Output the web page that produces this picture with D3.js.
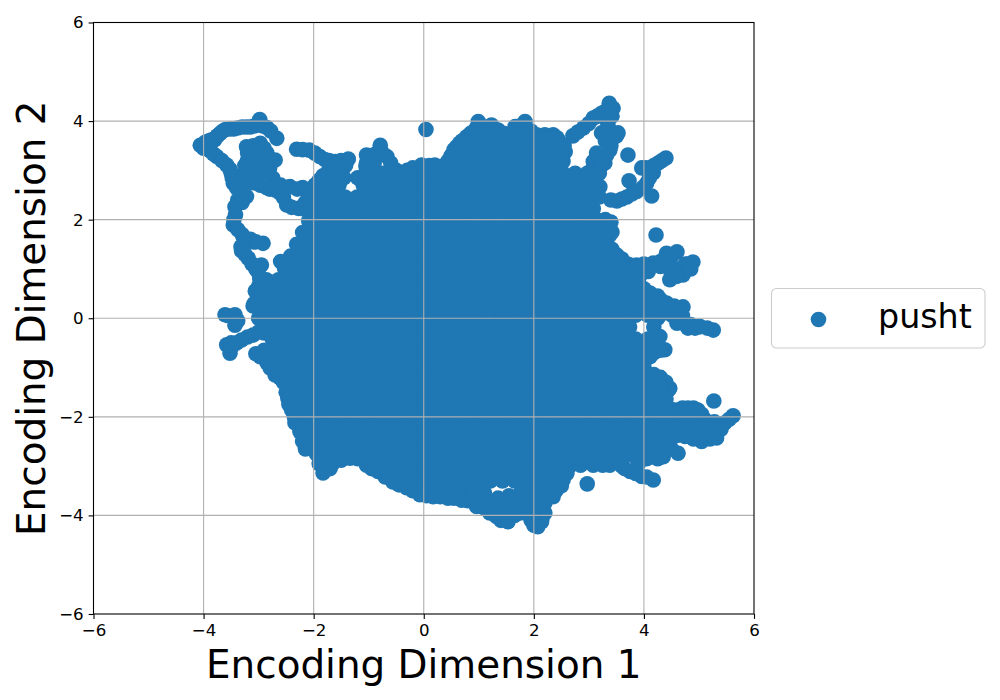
<!DOCTYPE html>
<html>
<head>
<meta charset="utf-8">
<script src="https://cdn.jsdelivr.net/npm/d3@7"></script>
<style>
html,body{margin:0;padding:0;background:#fff}
svg{display:block}
text{font-family:"DejaVu Sans",sans-serif;fill:#000}
</style>
</head>
<body>
<svg id="chart" width="1000" height="700"></svg>
<script>
const seriesName = "pusht";
const xAxisLabel = "Encoding Dimension 1";
const yAxisLabel = "Encoding Dimension 2";
const tickValues = [-6, -4, -2, 0, 2, 4, 6];
const domainRange = [-6, 6];

// Points readable on the rim of the cloud: isolated markers, arms and loops.
const rimPoints = [
[-4.0,3.45],[-4.06,3.51],[-3.9,3.6],[-3.8,3.62],[-3.7,3.75],[-3.6,3.83],[-3.45,3.84],[-3.3,3.88],[-3.15,3.88],[-3.0,3.92],[-2.98,4.03],[-2.85,3.87],[-2.67,3.65],
[-3.97,3.57],[-3.85,3.62],[-3.75,3.7],[-3.65,3.8],[-3.52,3.84],[-3.38,3.86],[-3.22,3.88],[-3.08,3.9],[-2.92,3.9],[-2.78,3.8],
[0.04,3.83],
[-3.76,3.28],[-3.58,3.11],[-3.5,2.95],[-3.46,2.74],[-3.3,2.55],[-3.22,2.47],[-3.43,2.26],[-3.38,2.4],[-3.46,1.89],[-3.28,1.65],[-2.92,1.52],[-3.1,1.55],[-3.31,1.37],[-3.19,1.22],[-3.01,0.94],[-2.95,1.08],
[-3.88,3.4],[-3.82,3.33],[-3.67,3.2],[-3.52,3.02],[-3.48,2.85],[-3.4,2.65],[-3.33,2.5],[-3.3,2.35],[-3.42,2.1],[-3.45,2.0],[-3.38,1.8],[-3.3,1.7],[-3.15,1.6],[-3.05,1.55],[-3.32,1.45],[-3.25,1.3],[-3.12,1.1],[-3.05,1.0],[-2.98,0.8],[-3.0,0.65],
[-3.22,3.48],[-3.1,3.5],[-2.97,3.55],[-2.85,3.35],[-2.7,3.21],[-3.2,3.2],[-3.03,3.0],[-2.74,2.84],[-3.25,2.95],[-2.97,2.7],[-2.61,2.54],[-2.49,2.3],[-2.28,2.23],[-2.8,2.62],[-2.43,2.67],[-2.2,2.65],[-2.01,2.6],
[-3.2,3.35],[-3.1,3.35],[-3.0,3.4],[-2.9,3.45],[-3.05,3.2],[-2.9,3.2],[-2.8,3.05],[-3.15,3.05],[-3.1,2.9],[-2.95,2.95],[-3.25,3.1],
[-3.2,2.8],[-3.1,2.75],[-2.85,2.65],[-2.7,2.6],[-2.55,2.45],[-2.4,2.25],[-2.6,2.7],[-2.5,2.65],[-2.3,2.62],[-2.1,2.55],[-2.15,2.35],[-1.9,2.8],
[-2.31,3.43],[-2.08,3.41],[-1.89,3.28],[-1.61,3.18],[-1.37,3.23],[-1.52,3.05],[-1.83,2.89],[-1.7,3.05],[-1.04,3.31],[-0.79,3.51],[-0.67,3.28],[-0.9,3.15],[-1.05,3.08],
[-2.2,3.42],[-1.98,3.35],[-1.8,3.22],[-1.72,3.2],[-1.5,3.2],[-1.42,3.1],[-1.6,3.0],[-1.75,2.95],[-1.9,2.75],[-1.65,2.85],[-1.45,2.85],[-1.2,2.85],
[-1.04,3.15],[-0.95,3.3],[-0.85,3.35],[-0.75,3.35],[-0.6,3.15],[-0.5,3.0],[-0.3,3.0],[-1.05,2.95],
[-0.43,2.91],[-0.04,3.11],[0.2,3.11],[0.39,3.07],[0.6,3.48],[0.78,3.68],[-0.2,3.05],[0.1,3.1],[0.3,3.08],[0.5,3.3],[0.45,3.2],[0.65,3.55],[0.85,3.75],[0.7,3.6],[0.95,3.85],
[0.99,3.99],[1.23,3.92],[1.1,3.85],[1.84,3.99],[1.66,3.89],[1.53,3.72],[2.05,3.72],[2.35,3.72],[2.57,3.38],[2.53,3.18],[2.71,3.7],[2.9,3.86],[3.08,4.06],[3.23,4.16],[3.44,4.26],[3.37,4.36],[3.32,4.02],[3.23,3.76],[3.53,3.76],[3.41,3.62],[3.38,3.41],[3.14,3.35],[3.08,3.18],[3.29,3.15],[3.71,3.31],[3.96,3.05],[4.11,3.05],[4.26,3.15],[4.4,3.25],[3.73,2.79],[4.14,2.48],[3.87,2.57],[3.69,2.46],[3.51,2.38],[4.05,2.74],[4.17,2.95],
[1.35,3.82],[1.45,3.75],[1.75,3.9],[1.95,3.8],[2.2,3.72],[2.45,3.6],[2.55,3.5],
[2.8,3.78],[3.0,3.95],[3.15,4.1],[3.3,4.2],[3.42,4.1],[3.35,3.9],[3.35,3.85],[3.3,3.6],[3.4,3.5],[3.5,3.7],[3.32,3.3],[3.2,3.2],[3.15,3.05],[3.05,3.0],[3.2,3.05],
[4.03,3.05],[4.18,3.1],[4.33,3.2],[4.1,2.85],[3.98,2.65],[3.78,2.52],[3.6,2.42],[3.4,2.4],
[3.2,2.67],[3.14,2.47],[3.35,1.86],[3.38,1.69],[3.32,1.55],[3.51,1.28],[3.7,1.1],[3.87,1.08],[4.17,1.12],[4.22,1.69],[4.41,1.32],[4.6,1.35],[4.47,0.78],[4.71,0.88],[4.89,1.14],[4.75,1.1],[4.5,1.05],[4.11,0.51],[4.41,0.31],[4.71,0.23],
[3.4,1.95],[3.42,1.75],[3.3,2.0],[3.42,1.4],[3.6,1.2],[3.75,1.08],[4.0,1.1],[4.3,1.15],[4.4,1.2],[4.5,1.25],[4.55,1.0],[4.65,0.95],[4.6,0.85],[4.8,1.1],[4.85,1.0],[4.5,0.9],[4.3,1.05],[4.08,0.95],[3.9,0.75],[4.0,0.6],[3.95,0.9],[3.7,1.0],
[4.25,0.45],[4.3,0.38],[4.55,0.25],[4.62,0.15],[4.7,0.05],[4.15,0.2],[4.25,0.0],
[4.8,-0.2],[5.02,-0.17],[5.26,-0.24],[4.6,0.05],[4.38,-0.64],[4.14,-0.44],[4.11,-0.78],[4.47,-1.42],[4.29,-1.29],[3.93,-1.11],
[4.6,-0.1],[4.72,-0.1],[4.85,-0.13],[5.0,-0.17],[5.15,-0.2],[4.93,-0.2],[4.29,-0.37],[4.2,-0.55],[4.3,-0.65],[4.18,-0.7],[4.0,-0.9],
[4.0,-1.0],[4.15,-1.15],[4.3,-1.2],[4.4,-1.3],[4.45,-1.45],[4.35,-1.55],[4.4,-1.65],
[5.27,-1.68],[5.62,-1.98],[5.47,-2.12],[5.32,-2.43],[5.05,-2.5],[4.98,-1.86],[4.8,-1.82],[4.6,-1.86],[5.14,-2.2],[4.62,-2.74],[4.35,-2.81],[4.17,-3.28],[3.96,-3.21],[3.75,-3.11],[2.97,-3.36],
[4.4,-1.8],[4.5,-1.85],[4.7,-1.82],[4.9,-1.82],[5.05,-1.95],[5.1,-2.05],[5.25,-2.15],[5.4,-2.15],[5.55,-2.05],[5.2,-2.3],[5.2,-2.45],[4.9,-2.45],[4.75,-2.4],[4.6,-2.38],[5.4,-2.25],
[4.5,-2.65],[4.25,-2.85],[4.05,-2.85],[3.9,-2.95],[4.05,-3.22],[3.85,-3.15],[3.65,-3.05],[3.6,-3.0],
[3.08,-2.98],[3.38,-2.98],[3.57,-2.94],[2.53,-3.28],[2.35,-3.62],[2.14,-4.13],[2.07,-4.23],[1.53,-4.13],[1.25,-3.95],[0.96,-3.79],
[2.65,-3.0],[2.85,-2.98],[3.25,-2.98],[2.6,-3.15],[2.5,-3.4],[2.4,-3.5],[2.3,-3.6],[2.2,-3.75],[2.2,-3.95],[2.15,-4.05],[1.85,-3.85],[1.75,-3.95],[1.55,-3.95],[1.4,-4.1],[1.65,-4.0],[1.2,-3.95],[1.1,-3.85],[1.95,-4.1],[2.0,-4.2],[2.0,-4.05],
[0.8,-3.7],[0.55,-3.65],[0.3,-3.62],[0.05,-3.6],[-0.2,-3.5],[-0.45,-3.38],[-0.7,-3.22],[-0.95,-3.05],[-1.2,-2.85],[-1.5,-2.88],[-1.7,-3.05],[-1.9,-2.95],[-1.95,-2.75],[-2.15,-2.65],[-2.2,-2.5],
[-0.6,-3.15],[-0.4,-3.25],[-0.2,-3.3],[0.0,-3.45],[0.25,-3.45],[0.5,-3.45],[0.75,-3.5],[1.55,-3.6],[1.35,-3.65],
[-3.61,0.07],[-3.43,0.07],[-3.43,-0.14],[-3.58,-0.54],[-3.52,-0.71],[-3.31,-0.44],[-3.1,-0.34],[-2.85,-0.24],[-2.97,-0.78],[-2.79,-1.01],[-2.61,-1.21],[-2.47,-1.62],[-2.4,-1.86],[-2.34,-2.12],[-2.25,-2.3],[-2.07,-2.63],[-1.83,-3.14],[-1.75,-2.95],[-1.65,-2.94],[-1.34,-2.84],[-1.04,-2.98],[-0.83,-3.11],[-0.56,-3.32],[-0.31,-3.44],[-0.07,-3.58],[0.17,-3.62],[0.44,-3.65],[0.69,-3.69],[0.96,-3.82],
[-2.35,-2.0],[-2.45,-1.75],[-2.5,-1.5],[-2.7,-1.15],[-2.85,-0.9],[-3.05,-0.72],[-3.55,0.05],[-3.38,-0.05],[-3.5,-0.6],[-3.5,-0.5],[-3.4,-0.5],[-3.2,-0.38],[-3.0,-0.28],[-2.9,-0.3],
[-2.25,-1.9],[-2.2,-2.2],[-2.1,-2.4],[-2.35,-1.6],[-2.4,-1.45],[-1.95,-2.45],[-1.8,-2.8],[-2.9,-0.65],[-2.85,-0.8],[-2.55,-1.3],[-2.5,-1.05],
[-3.06,0.55],[-3.1,0.25],[-3.0,0.0],[-2.6,1.15],[-2.45,-1.4],[3.3,1.95]
];

// The solid mass cannot be separated into single markers: rows of estimated positions
// that cover what the picture shows as filled, [y, [x, x, ...]].
const massRows = [
[3.66,[.88,1.1,1.32,1.54,1.76,1.98,2.2,2.42]],
[3.42,[.55,.77,.99,1.21,1.43,1.65,1.87,2.09,2.31,2.53]],
[3.18,[.44,.66,.88,1.1,1.32,1.54,1.76,1.98,2.2,2.42]],
[2.94,[-.99,-.77,-.55,-.33,-.11,.11,.33,.55,.77,.99,1.21,1.43,1.65,1.87,2.09,2.31,2.53,2.75,2.97,3.19]],
[2.7,[-1.98,-1.76,-1.54,-1.1,-.88,-.66,-.44,-.22,0,.22,.44,.66,.88,1.1,1.32,1.54,1.76,1.98,2.2,2.42,2.64,2.86,3.08]],
[2.46,[-2.09,-1.87,-1.65,-1.43,-1.21,-.99,-.77,-.55,-.33,-.11,.11,.33,.55,.77,.99,1.21,1.43,1.65,1.87,2.09,2.31,2.53,2.75,2.97,3.19]],
[2.22,[-2.2,-1.98,-1.76,-1.54,-1.32,-1.1,-.88,-.66,-.44,-.22,0,.22,.44,.66,.88,1.1,1.32,1.54,1.76,1.98,2.2,2.42,2.64,2.86,3.08]],
[1.98,[-2.09,-1.87,-1.65,-1.43,-1.21,-.99,-.77,-.55,-.33,-.11,.11,.33,.55,.77,.99,1.21,1.43,1.65,1.87,2.09,2.31,2.53,2.75,2.97,3.19]],
[1.74,[-2.2,-1.98,-1.76,-1.54,-1.32,-1.1,-.88,-.66,-.44,-.22,0,.22,.44,.66,.88,1.1,1.32,1.54,1.76,1.98,2.2,2.42,2.64,2.86,3.08,3.3]],
[1.5,[-2.31,-2.09,-1.87,-1.65,-1.43,-1.21,-.99,-.77,-.55,-.33,-.11,.11,.33,.55,.77,.99,1.21,1.43,1.65,1.87,2.09,2.31,2.53,2.75,2.97,3.19]],
[1.26,[-2.42,-2.2,-1.98,-1.76,-1.54,-1.32,-1.1,-.88,-.66,-.44,-.22,0,.22,.44,.66,.88,1.1,1.32,1.54,1.76,1.98,2.2,2.42,2.64,2.86,3.08,3.3,3.52]],
[1.02,[-2.53,-2.31,-2.09,-1.87,-1.65,-1.43,-1.21,-.99,-.77,-.55,-.33,-.11,.11,.33,.55,.77,.99,1.21,1.43,1.65,1.87,2.09,2.31,2.53,2.75,2.97,3.19,3.41,3.63,3.85,4.07]],
[.78,[-2.86,-2.64,-2.42,-2.2,-1.98,-1.76,-1.54,-1.32,-1.1,-.88,-.66,-.44,-.22,0,.22,.44,.66,.88,1.1,1.32,1.54,1.76,1.98,2.2,2.42,2.64,2.86,3.08,3.3,3.52,3.74]],
[.54,[-2.97,-2.75,-2.53,-2.31,-2.09,-1.87,-1.65,-1.43,-1.21,-.99,-.77,-.55,-.33,-.11,.11,.33,.55,.77,.99,1.21,1.43,1.65,1.87,2.09,2.31,2.53,2.75,2.97,3.19,3.41,3.63,3.85]],
[.3,[-3.08,-2.86,-2.64,-2.42,-2.2,-1.98,-1.76,-1.54,-1.32,-1.1,-.88,-.66,-.44,-.22,0,.22,.44,.66,.88,1.1,1.32,1.54,1.76,1.98,2.2,2.42,2.64,2.86,3.08,3.3,3.52,3.74,3.96,4.18,4.4]],
[.06,[-2.97,-2.75,-2.53,-2.31,-2.09,-1.87,-1.65,-1.43,-1.21,-.99,-.77,-.55,-.33,-.11,.11,.33,.55,.77,.99,1.21,1.43,1.65,1.87,2.09,2.31,2.53,2.75,2.97,3.19,3.41,3.63,3.85,4.07,4.29,4.51]],
[-.18,[-2.86,-2.64,-2.42,-2.2,-1.98,-1.76,-1.54,-1.32,-1.1,-.88,-.66,-.44,-.22,0,.22,.44,.66,.88,1.1,1.32,1.54,1.76,1.98,2.2,2.42,2.64,2.86,3.08,3.3,3.52,3.74,4.18]],
[-.42,[-2.75,-2.53,-2.31,-2.09,-1.87,-1.65,-1.43,-1.21,-.99,-.77,-.55,-.33,-.11,.11,.33,.55,.77,.99,1.21,1.43,1.65,1.87,2.09,2.31,2.53,2.75,2.97,3.19,3.41,3.63,3.85,4.07]],
[-.66,[-2.86,-2.64,-2.42,-2.2,-1.98,-1.76,-1.54,-1.32,-1.1,-.88,-.66,-.44,-.22,0,.22,.44,.66,.88,1.1,1.32,1.54,1.76,1.98,2.2,2.42,2.64,2.86,3.08,3.3,3.52,3.74,3.96]],
[-.9,[-2.75,-2.53,-2.31,-2.09,-1.87,-1.65,-1.43,-1.21,-.99,-.77,-.55,-.33,-.11,.11,.33,.55,.77,.99,1.21,1.43,1.65,1.87,2.09,2.31,2.53,2.75,2.97,3.19,3.41,3.63,3.85]],
[-1.14,[-2.64,-2.42,-2.2,-1.98,-1.76,-1.54,-1.32,-1.1,-.88,-.66,-.44,-.22,0,.22,.44,.66,.88,1.1,1.32,1.54,1.76,1.98,2.2,2.42,2.64,2.86,3.08,3.3,3.52,3.74,3.96,4.18]],
[-1.38,[-2.31,-2.09,-1.87,-1.65,-1.43,-1.21,-.99,-.77,-.55,-.33,-.11,.11,.33,.55,.77,.99,1.21,1.43,1.65,1.87,2.09,2.31,2.53,2.75,2.97,3.19,3.41,3.63,3.85,4.07,4.29]],
[-1.62,[-2.42,-2.2,-1.98,-1.76,-1.54,-1.32,-1.1,-.88,-.66,-.44,-.22,0,.22,.44,.66,.88,1.1,1.32,1.54,1.76,1.98,2.2,2.42,2.64,2.86,3.08,3.3,3.52,3.74,3.96,4.18]],
[-1.86,[-2.31,-2.09,-1.87,-1.65,-1.43,-1.21,-.99,-.77,-.55,-.33,-.11,.11,.33,.55,.77,.99,1.21,1.43,1.65,1.87,2.09,2.31,2.53,2.75,2.97,3.19,3.41,3.63,3.85,4.07,4.29,4.51,4.73,4.95]],
[-2.1,[-2.2,-1.98,-1.76,-1.54,-1.32,-1.1,-.88,-.66,-.44,-.22,0,.22,.44,.66,.88,1.1,1.32,1.54,1.76,1.98,2.2,2.42,2.64,2.86,3.08,3.3,3.52,3.74,3.96,4.18,4.4,4.62,4.84,5.06,5.28]],
[-2.34,[-2.09,-1.87,-1.65,-1.43,-1.21,-.99,-.77,-.55,-.33,-.11,.11,.33,.55,.77,.99,1.21,1.43,1.65,1.87,2.09,2.31,2.53,2.75,2.97,3.19,3.41,3.63,3.85,4.07,4.29,4.51,4.73,4.95,5.17]],
[-2.58,[-1.98,-1.76,-1.54,-1.32,-1.1,-.88,-.66,-.44,-.22,0,.22,.44,.66,.88,1.1,1.32,1.54,1.76,1.98,2.2,2.42,2.64,2.86,3.08,3.3,3.52,3.74,3.96,4.18,4.4]],
[-2.82,[-1.87,-1.65,-1.43,-1.21,-.99,-.77,-.55,-.33,-.11,.11,.33,.55,.77,.99,1.21,1.43,1.65,1.87,2.09,2.31,2.53,2.75,2.97,3.19,3.41,3.63,3.85,4.07,4.29]],
[-3.06,[-.88,-.66,-.44,-.22,0,.22,.44,.66,.88,1.1,1.32,1.54,1.76,1.98,2.2,2.42]],
[-3.3,[-.11,.11,.33,.55,.77,.99,1.21,1.43,1.65,1.87,2.09,2.31]],
[-3.54,[.88,1.1,1.76,1.98,2.2]],
[-3.78,[.99,1.21,1.43,1.65,1.87,2.09]],
[-4.02,[1.32,1.54,1.98]]
];

const plotLeft = 93.5, plotRight = 754, plotTop = 22.5, plotBottom = 614;
const markerRadius = 7.8, blue = "#1f77b4";

const svg = d3.select("#chart");
const x = d3.scaleLinear().domain(domainRange).range([plotLeft, plotRight]);
const y = d3.scaleLinear().domain(domainRange).range([plotBottom, plotTop]);
const fmt = d => (d < 0 ? "\u2212" + Math.abs(d) : String(d));

const points = rimPoints.concat(massRows.flatMap(([yv, xs]) => xs.map(xv => [xv, yv])));

svg.append("g").selectAll("circle").data(points).join("circle")
  .attr("cx", d => x(d[0])).attr("cy", d => y(d[1]))
  .attr("r", markerRadius).attr("fill", blue);

// Grid sits above the markers, as in the reference.
const grid = svg.append("g").attr("stroke", "#b0b0b0").attr("stroke-width", 1.1);
grid.selectAll(".gx").data(tickValues.slice(1, -1)).join("line")
  .attr("x1", d => x(d)).attr("x2", d => x(d)).attr("y1", plotTop).attr("y2", plotBottom);
grid.selectAll(".gy").data(tickValues.slice(1, -1)).join("line")
  .attr("y1", d => y(d)).attr("y2", d => y(d)).attr("x1", plotLeft).attr("x2", plotRight);

const xAxis = d3.axisBottom(x).tickValues(tickValues).tickFormat(fmt).tickSize(4.9).tickPadding(4.9);
const yAxis = d3.axisLeft(y).tickValues(tickValues).tickFormat(fmt).tickSize(4.9).tickPadding(4.9);
const gx = svg.append("g").attr("transform", `translate(0,${plotBottom})`).call(xAxis);
const gy = svg.append("g").attr("transform", `translate(${plotLeft},0)`).call(yAxis);
[gx, gy].forEach(g => {
  g.select(".domain").remove();
  g.selectAll("line").attr("stroke", "#000").attr("stroke-width", 1.1);
  g.selectAll("text").attr("font-size", 16.67).attr("font-family", '"DejaVu Sans"').attr("fill", "#000");
});

svg.append("rect").attr("x", plotLeft).attr("y", plotTop)
  .attr("width", plotRight - plotLeft).attr("height", plotBottom - plotTop)
  .attr("fill", "none").attr("stroke", "#000").attr("stroke-width", 1.1);

svg.append("text").attr("x", (plotLeft + plotRight) / 2).attr("y", 678)
  .attr("text-anchor", "middle").attr("font-size", 38.9).text(xAxisLabel);
svg.append("text").attr("transform", `translate(45,${(plotTop + plotBottom) / 2}) rotate(-90)`)
  .attr("text-anchor", "middle").attr("font-size", 38.9).text(yAxisLabel);

const legend = svg.append("g");
legend.append("rect").attr("x", 771.5).attr("y", 288.5).attr("width", 213.5).attr("height", 59.5)
  .attr("rx", 5).attr("fill", "#fff").attr("stroke", "#ccc").attr("stroke-width", 1.1);
legend.append("circle").attr("cx", 818.5).attr("cy", 319.5).attr("r", markerRadius).attr("fill", blue);
legend.append("text").attr("x", 878).attr("y", 328).attr("font-size", 33.3).text(seriesName);
</script>
</body>
</html>
